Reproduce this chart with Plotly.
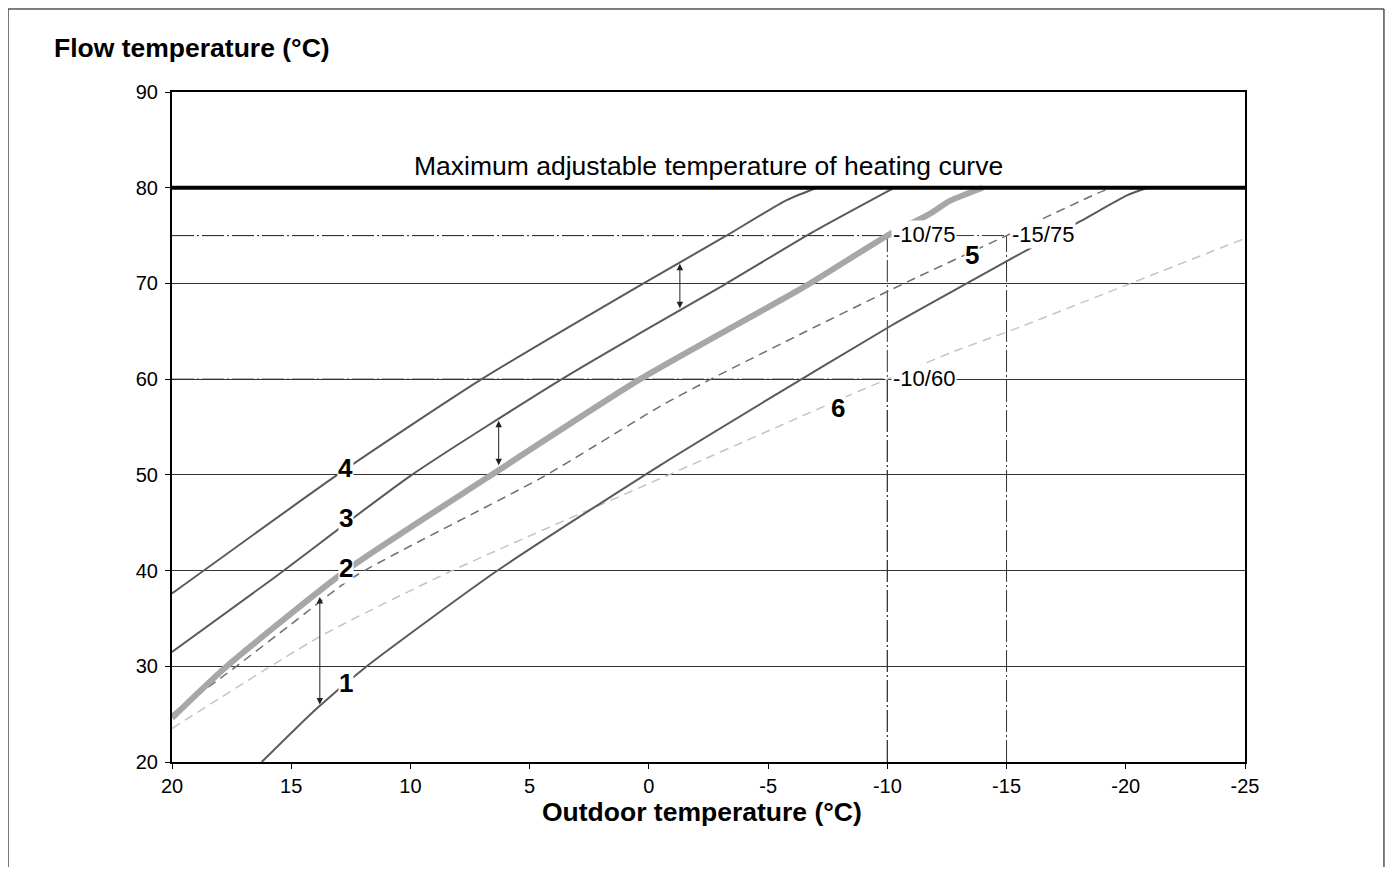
import plotly.graph_objects as go

# ---------------- data ----------------
x_ticks = [20, 15, 10, 5, 0, -5, -10, -15, -20, -25]
x_tick_labels = ["20", "15", "10", "5", "0", "-5", "-10", "-15", "-20", "-25"]
y_ticks = [20, 30, 40, 50, 60, 70, 80, 90]
y_tick_labels = ["20", "30", "40", "50", "60", "70", "80", "90"]

max_temp = 80
max_label = "Maximum adjustable temperature of heating curve"

# heating curves (outdoor temp, flow temp)
c1_x = [16.24, 13.93, 11.83, 6.38, -0.47, -4.94, -10.1, -13.33, -15.2, -18.1, -20.05, -20.9]
c1_y = [20.0, 25.6, 30.0, 39.95, 51.0, 57.8, 65.5, 70.0, 72.6, 76.5, 79.2, 80.0]

c2_x = [20, 17.7, 12.67, 6.66, 0.3, -6.62, -10.0, -11.8, -12.6, -14.0]
c2_y = [24.6, 30.0, 40.06, 49.9, 60.1, 69.8, 75.0, 77.3, 78.6, 80.0]

c3_x = [20, 15.8, 10.0, 3.72, 0.37, -3.12, -6.76, -10.3]
c3_y = [31.5, 39.1, 49.9, 59.9, 64.8, 69.8, 75.2, 80.0]

c4_x = [20, 12.95, 7.08, 0.37, -3.12, -5.78, -7.04]
c4_y = [37.6, 50.2, 59.9, 69.8, 74.8, 78.7, 80.0]

c5_x = [20, 17.3, 15.0, 12.4, 4.43, -0.5, -2.6, -6.6, -10.7, -15.0, -18.8, -19.4]
c5_y = [25.0, 30.0, 34.4, 39.3, 49.8, 57.2, 60.0, 65.0, 70.0, 75.0, 79.4, 80.0]

c6_x = [20, 13.8, 8.34, -0.47, -8.3, -10.0, -12.8, -15.2, -20.2, -25.0]
c6_y = [23.5, 33.1, 39.9, 49.6, 58.2, 60.0, 62.9, 65.1, 70.0, 74.7]

# design points (outdoor / flow)
design_x = [-10, -15, -10]
design_y = [75, 75, 60]
design_labels = ["-10/75", "-15/75", "-10/60"]

# curve number labels
num_labels = ["4", "3", "2", "1", "5", "6"]
num_x = [12.74, 12.7, 12.7, 12.7, -13.56, -7.94]
num_y = [50.7, 45.5, 40.3, 28.25, 72.97, 57.0]

# parallel-shift arrows
arrow_x = [13.8, 6.3, -1.3]
arrow_top = [37.4, 55.8, 72.2]
arrow_bottom = [26.0, 51.0, 67.4]

# ---------------- figure ----------------
FONT = "Liberation Sans, Arial, sans-serif"
fig = go.Figure()

# design point reference lines (dash-dot)
dashdot = "22px,3px,2px,3px"
for dx, dy in zip(design_x, design_y):
    fig.add_trace(go.Scatter(x=[x_ticks[0], dx], y=[dy, dy], mode="lines",
                             line=dict(color="#333333", width=1, dash=dashdot),
                             hoverinfo="skip"))
    fig.add_trace(go.Scatter(x=[dx, dx], y=[y_ticks[0], dy], mode="lines",
                             line=dict(color="#333333", width=1, dash=dashdot),
                             hoverinfo="skip"))

# curves
fig.add_trace(go.Scatter(x=c6_x, y=c6_y, mode="lines", line_shape="spline",
                         line=dict(color="#c4c4c4", width=1.5, dash="9px,6px", smoothing=0.6)))
fig.add_trace(go.Scatter(x=c5_x, y=c5_y, mode="lines", line_shape="spline",
                         line=dict(color="#6e6e6e", width=1.5, dash="9px,6px", smoothing=0.6)))
fig.add_trace(go.Scatter(x=c1_x, y=c1_y, mode="lines", line_shape="spline",
                         line=dict(color="#5a5a5a", width=2, smoothing=0.6)))
fig.add_trace(go.Scatter(x=c3_x, y=c3_y, mode="lines", line_shape="spline",
                         line=dict(color="#5a5a5a", width=2, smoothing=0.6)))
fig.add_trace(go.Scatter(x=c4_x, y=c4_y, mode="lines", line_shape="spline",
                         line=dict(color="#5a5a5a", width=2, smoothing=0.6)))
fig.add_trace(go.Scatter(x=c2_x, y=c2_y, mode="lines", line_shape="spline",
                         line=dict(color="#a6a7aa", width=6, smoothing=0.6)))

# maximum line
fig.add_trace(go.Scatter(x=[x_ticks[0], x_ticks[-1]], y=[max_temp, max_temp], mode="lines",
                         line=dict(color="black", width=4)))

annotations = []
# max label
annotations.append(dict(x=-2.5, y=82.3, xref="x", yref="y", text=max_label, showarrow=False,
                        font=dict(family=FONT, size=26.5, color="black"),
                        xanchor="center", yanchor="middle"))
# design labels
for dx, dy, t in zip(design_x, design_y, design_labels):
    annotations.append(dict(x=dx - 0.15, y=dy + 0.1, xref="x", yref="y", text=t, showarrow=False,
                            font=dict(family=FONT, size=22, color="black"),
                            xanchor="left", yanchor="middle", bgcolor="white", borderpad=1))
# curve numbers
for t, nx, ny in zip(num_labels, num_x, num_y):
    annotations.append(dict(x=nx, y=ny, xref="x", yref="y", text="<b>%s</b>" % t, showarrow=False,
                            font=dict(family=FONT, size=26, color="black"),
                            xanchor="center", yanchor="middle", bgcolor="white", borderpad=0))
# arrows
for ax_, yt, yb in zip(arrow_x, arrow_top, arrow_bottom):
    annotations.append(dict(x=ax_, y=yb, ax=ax_, ay=yt, xref="x", yref="y", axref="x", ayref="y",
                            text="", showarrow=True, arrowhead=2, startarrowhead=2,
                            arrowside="end+start", arrowsize=1.3, startarrowsize=1.3,
                            arrowwidth=1, arrowcolor="#222222"))
# axis titles
annotations.append(dict(x=-0.1118, y=1.0657, xref="paper", yref="paper",
                        text="<b>Flow temperature (°C)</b>", showarrow=False,
                        font=dict(family=FONT, size=26.5, color="black"),
                        xanchor="left", yanchor="middle"))
annotations.append(dict(x=0.4935, y=-0.0745, xref="paper", yref="paper",
                        text="<b>Outdoor temperature (°C)</b>", showarrow=False,
                        font=dict(family=FONT, size=26.5, color="black"),
                        xanchor="center", yanchor="middle"))

fig.update_layout(
    width=1377, height=859,
    margin=dict(l=164, r=140, t=84, b=105),
    paper_bgcolor="white", plot_bgcolor="white",
    showlegend=False,
    annotations=annotations,
    shapes=[dict(type="rect", xref="paper", yref="paper", x0=-0.1528, x1=1.1295,
                 y0=-0.25, y1=1.1239, line=dict(color="black", width=1), layer="below")],
    font=dict(family=FONT, color="black"),
)
fig.update_xaxes(range=[x_ticks[0], x_ticks[-1]], tickvals=x_ticks, ticktext=x_tick_labels,
                 showgrid=False, zeroline=False, showline=True, mirror=True,
                 linecolor="black", linewidth=2, ticks="outside", ticklen=5,
                 tickcolor="black", tickwidth=1, tickfont=dict(family=FONT, size=20, color="black"))
fig.update_yaxes(range=[y_ticks[0], y_ticks[-1]], tickvals=y_ticks, ticktext=y_tick_labels,
                 showgrid=True, gridcolor="#333333", gridwidth=1, zeroline=False,
                 showline=True, mirror=True, linecolor="black", linewidth=2,
                 ticks="outside", ticklen=5, tickcolor="black", tickwidth=1,
                 ticklabelstandoff=3,
                 tickfont=dict(family=FONT, size=20, color="black"))

fig.write_html("out.html")
